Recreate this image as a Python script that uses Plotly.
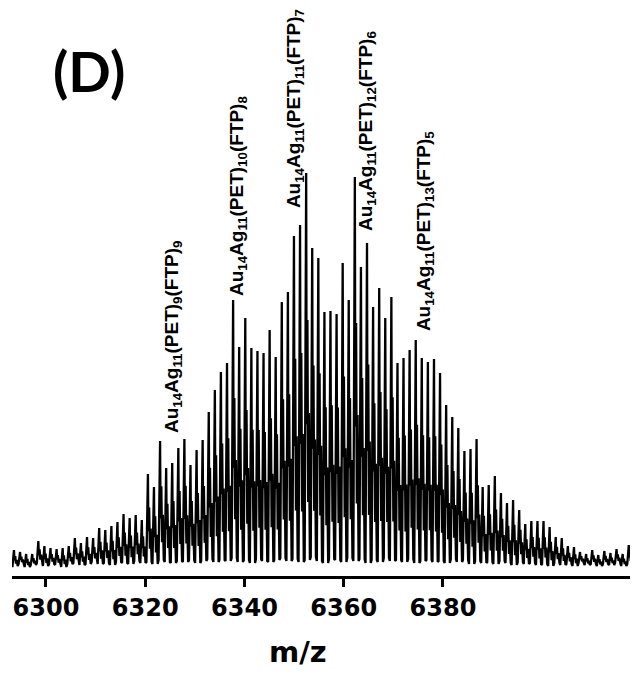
import plotly.graph_objects as go

# ---- data ----
# peak positions (m/z)
peak_mz = [
    6293.55, 6294.78, 6296.00, 6297.23, 6298.46, 6299.68, 6300.91, 6302.14, 6303.36, 6304.59,
    6305.82, 6307.04, 6308.27, 6309.50, 6310.72, 6311.95, 6313.18, 6314.40, 6315.63, 6316.86,
    6318.08, 6319.31, 6320.54, 6321.76, 6322.99, 6324.22, 6325.44, 6326.67, 6327.89, 6329.12,
    6330.35, 6331.57, 6332.80, 6334.03, 6335.25, 6336.48, 6337.71, 6338.93, 6340.16, 6341.39,
    6342.61, 6343.84, 6345.07, 6346.29, 6347.52, 6348.75, 6349.97, 6351.20, 6352.43, 6353.65,
    6354.88, 6356.11, 6357.33, 6358.56, 6359.79, 6361.01, 6362.24, 6363.47, 6364.69, 6365.92,
    6367.15, 6368.37, 6369.60, 6370.83, 6372.05, 6373.28, 6374.51, 6375.73, 6376.96, 6378.19,
    6379.41, 6380.64, 6381.87, 6383.09, 6384.32, 6385.55, 6386.77, 6388.00, 6389.22, 6390.45,
    6391.68, 6392.90, 6394.13, 6395.36, 6396.58, 6397.81, 6399.04, 6400.26, 6401.49, 6402.72,
    6403.94, 6405.17, 6406.40, 6407.62, 6408.85, 6410.08, 6411.30, 6412.53, 6413.76, 6414.98,
    6416.21, 6417.44, 6418.66,
]
# peak intensities (a.u.)
peak_height = [
    26, 24, 22, 22, 35, 30, 28, 27, 28, 30,
    38, 33, 39, 38, 48, 46, 50, 54, 62, 58,
    61, 56, 102, 89, 135, 108, 113, 128, 137, 111,
    126, 136, 164, 186, 204, 213, 276, 229, 258, 228,
    225, 223, 246, 219, 274, 284, 340, 351, 403, 328,
    318, 264, 265, 262, 313, 276, 399, 309, 333, 269,
    288, 258, 279, 213, 218, 226, 236, 218, 214, 217,
    203, 171, 159, 148, 125, 127, 137, 89, 91, 100,
    83, 73, 76, 66, 52, 55, 55, 55, 49, 39,
    38, 30, 29, 24, 22, 26, 21, 25, 23, 27,
    22, 31, 24,
]
# baseline level before each peak (a.u.)
valley = [
    10, 12, 9, 11, 13, 10, 12, 11, 9, 12,
    13, 11, 12, 14, 12, 13, 11, 14, 13, 12,
    15, 13, 14, 12, 16, 14, 13, 15, 14, 16,
    13, 15, 17, 14, 16, 15, 18, 14, 16, 13,
    17, 15, 14, 16, 18, 15, 17, 14, 16, 19,
    15, 13, 17, 16, 14, 18, 15, 17, 13, 16,
    14, 18, 15, 16, 14, 17, 13, 15, 16, 14,
    15, 13, 17, 14, 16, 12, 15, 13, 14, 12,
    15, 13, 11, 14, 12, 13, 11, 12, 10, 13,
    11, 12, 10, 13, 11, 12, 10, 12, 11, 13,
    10, 12, 11,
]
x_ticks = [6300, 6320, 6340, 6360, 6380]
x_range = [6293.15, 6419.3]

labels = [
    "Au<sub>14</sub>Ag<sub>11</sub>(PET)<sub>9</sub>(FTP)<sub>9</sub>",
    "Au<sub>14</sub>Ag<sub>11</sub>(PET)<sub>10</sub>(FTP)<sub>8</sub>",
    "Au<sub>14</sub>Ag<sub>11</sub>(PET)<sub>11</sub>(FTP)<sub>7</sub>",
    "Au<sub>14</sub>Ag<sub>11</sub>(PET)<sub>12</sub>(FTP)<sub>6</sub>",
    "Au<sub>14</sub>Ag<sub>11</sub>(PET)<sub>13</sub>(FTP)<sub>5</sub>",
]
label_mz = [6325.6, 6338.7, 6350.1, 6364.7, 6376.4]
label_base = [141, 278, 366, 343, 243]

# ---- build the line profile from the peak table (peak + isotope shoulders) ----
xs, ys = [x_range[0]], [valley[0]]
for m, h, v in zip(peak_mz, peak_height, valley):
    d = h - v
    xs += [m - 0.3, m, m + 0.1, m + 0.25, m + 0.4, m + 0.55, m + 0.75]
    ys += [v, h, v + 0.35 * d, v + 0.62 * d, v + 0.15 * d, v + 0.38 * d, v]
xs.append(x_range[1])
ys.append(valley[-1])

fig = go.Figure()
fig.add_trace(go.Scatter(x=xs, y=ys, mode="lines",
                         line=dict(color="black", width=2.3), hoverinfo="skip"))

for txt, xm, yb in zip(labels, label_mz, label_base):
    fig.add_annotation(x=xm, y=yb, xref="x", yref="y", text=txt, textangle=-90,
                       showarrow=False, xanchor="center", yanchor="bottom",
                       font=dict(family="Liberation Sans, Arial", size=19, color="black",
                                 weight="bold"))

fig.add_annotation(x=6308.7, y=506, xref="x", yref="y", text="(D)", showarrow=False,
                   xanchor="center", yanchor="middle",
                   font=dict(family="Lato, Open Sans", size=56, color="black", weight="bold"))
# axis title placed in paper coordinates (below the plot area)
fig.add_annotation(x=0.457, y=-0.134, xref="paper", yref="paper", text="m/z", showarrow=False,
                   xanchor="center", yanchor="middle",
                   font=dict(family="DejaVu Sans", size=29, color="black", weight="bold"))

fig.update_xaxes(range=x_range, tickvals=x_ticks, ticktext=[str(t) for t in x_ticks],
                 showline=True, linecolor="black", linewidth=2.5,
                 ticks="outside", ticklen=8, tickwidth=2.5, tickcolor="black",
                 tickfont=dict(family="DejaVu Sans", size=24, color="black", weight="bold"),
                 showgrid=False, zeroline=False)
fig.update_yaxes(range=[0, 568], visible=False, showgrid=False, zeroline=False)

# page body has an 8px default margin; figure sized to fit the 638x675 window
fig.update_layout(width=630, height=667, margin=dict(l=4, r=0, t=0, b=99),
                  paper_bgcolor="white", plot_bgcolor="white", showlegend=False)

fig.write_html("out.html")
